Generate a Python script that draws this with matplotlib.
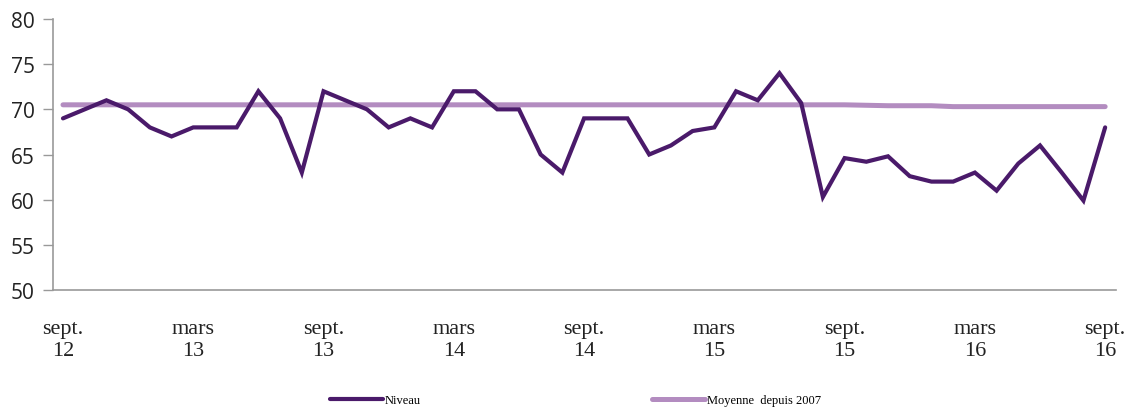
import matplotlib
matplotlib.use("Agg")
import matplotlib.pyplot as plt
import numpy as np

# Monthly data, sept. 2012 -> sept. 2016
niveau = [69, 70, 71, 70, 68, 67, 68, 68, 68, 72, 69, 63,
          72, 71, 70, 68, 69, 68, 72, 72, 70, 70, 65, 63,
          69, 69, 69, 65, 66, 67.6, 68, 72, 71, 74, 70.7, 60.3,
          64.6, 64.2, 64.8, 62.6, 62, 62, 63, 61, 64, 66, 63, 59.9,
          68]
moyenne = [70.5] * 37 + [70.45, 70.4, 70.4, 70.4, 70.3, 70.3, 70.3,
                         70.3, 70.3, 70.3, 70.3, 70.3]
tick_pos = [0, 6, 12, 18, 24, 30, 36, 42, 48]
tick_labels = ["sept.\n12", "mars\n13", "sept.\n13", "mars\n14", "sept.\n14",
               "mars\n15", "sept.\n15", "mars\n16", "sept.\n16"]
y_ticks = [50, 55, 60, 65, 70, 75, 80]

x = np.arange(len(niveau))

fig = plt.figure(figsize=(11.3, 4.1), dpi=100)
ax = fig.add_axes([53 / 1130, 1 - 291 / 410, (1116 - 53) / 1130, (291 - 20) / 410])

c_niv = "#4a1a6a"
c_moy = "#b38cc0"
l_moy, = ax.plot(x, moyenne, color=c_moy, lw=3.6, solid_capstyle="round", zorder=2)
l_niv, = ax.plot(x, niveau, color=c_niv, lw=3.0, solid_capstyle="round", solid_joinstyle="miter",
                 zorder=3)

ax.set_xlim(-0.46, 48.5)
ax.set_ylim(50, 80)
ax.set_yticks(y_ticks)
ax.set_yticklabels([str(v) for v in y_ticks], fontsize=15, family="Open Sans", color="#222222")
ax.set_xticks(tick_pos)
ax.set_xticklabels(tick_labels, fontsize=16, family="Liberation Serif", color="#222222",
                   linespacing=1.2)
ax.tick_params(axis="x", length=0, pad=21)
ax.tick_params(axis="y", length=7, width=1, color="#999999", pad=6)

for s in ["top", "right"]:
    ax.spines[s].set_visible(False)
ax.spines["left"].set_color("#999999")
ax.spines["bottom"].set_color("#999999")
ax.spines["left"].set_linewidth(1.2)
ax.spines["bottom"].set_linewidth(1.2)

prop = {"family": "Liberation Serif", "size": 9}
leg1 = fig.legend([l_niv], ["Niveau"], loc="center left",
                  bbox_to_anchor=(330 / 1130, 1 - 401 / 410), frameon=False, prop=prop,
                  handlelength=4.2, handletextpad=0.2, borderpad=0, borderaxespad=0)
leg2 = fig.legend([l_moy], ["Moyenne  depuis 2007"], loc="center left",
                  bbox_to_anchor=(652 / 1130, 1 - 401 / 410), frameon=False, prop=prop,
                  handlelength=4.2, handletextpad=0.2, borderpad=0, borderaxespad=0)

fig.savefig("out.png", dpi=100)
